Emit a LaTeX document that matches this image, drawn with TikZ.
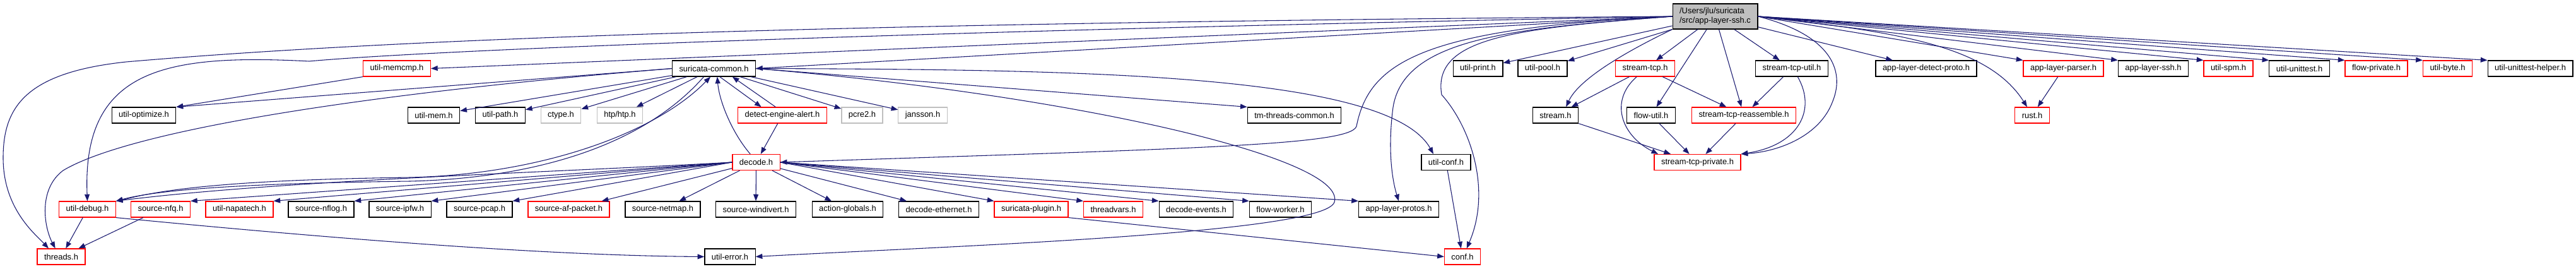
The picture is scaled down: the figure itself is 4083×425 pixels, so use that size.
\documentclass[tikz,border=0pt]{standalone}
\usepackage{fontspec}
\setmainfont{Liberation Sans}
\usepackage{tikz}
\usetikzlibrary{arrows.meta}

\begin{document}
\begin{tikzpicture}[
    x=0.75pt, y=-0.75pt,
    font=\fontsize{9.7}{11.25}\selectfont,
    header/.style={
        rectangle,
        draw=#1,
        fill=white,
        line width=0.9pt,
        inner xsep=8.25pt,
        inner ysep=0pt,
        minimum height=18.75pt
    },
    header/.default=black,
    mainfile/.style={
        rectangle,
        draw=black,
        fill=mainfill,
        line width=0.9pt,
        align=left,
        inner xsep=8.25pt,
        inner ysep=0pt,
        minimum height=30pt
    },
    arrow/.style={
        -{Triangle[length=8pt,width=6pt]},
        line width=0.8pt,
        draw=edgeblue
    }
]

\definecolor{edgeblue}{RGB}{25,25,112}
\definecolor{extgray}{RGB}{191,191,191}
\definecolor{mainfill}{RGB}{191,191,191}

\useasboundingbox (0,0) rectangle (4083,425);

% Source file
\node[mainfile] (sshc) at (2718.5,26) {/Users/jlu/suricata\\/src/app-layer-ssh.c};

% First row of headers
\node[header=red] (memcmp) at (629,108.5) {util-memcmp.h};
\node[header] (common) at (1131.5,108.5) {suricata-common.h};
\node[header] (print) at (2342.5,108.5) {util-print.h};
\node[header] (pool) at (2445,108.5) {util-pool.h};
\node[header=red] (streamtcp) at (2607.5,108.5) {stream-tcp.h};
\node[header] (tcputil) at (2840,108.5) {stream-tcp-util.h};
\node[header] (detectproto) at (3053,108.5) {app-layer-detect-proto.h};
\node[header=red] (parser) at (3270.5,108.5) {app-layer-parser.h};
\node[header] (sshh) at (3413,108.5) {app-layer-ssh.h};
\node[header=red] (spm) at (3532,108.5) {util-spm.h};
\node[header] (unittest) at (3644.5,108.5) {util-unittest.h};
\node[header=red] (flowpriv) at (3766.5,108.5) {flow-private.h};
\node[header=red] (bytes) at (3879.5,108.5) {util-byte.h};
\node[header] (helper) at (4010.5,108.5) {util-unittest-helper.h};

% Second row
\node[header] (optimize) at (228,182.5) {util-optimize.h};
\node[header] (mem) at (687.5,182.5) {util-mem.h};
\node[header] (path) at (793,182.5) {util-path.h};
\node[header=extgray] (ctype) at (889,182.5) {ctype.h};
\node[header=extgray] (htp) at (982.5,182.5) {htp/htp.h};
\node[header=red] (alert) at (1240,182.5) {detect-engine-alert.h};
\node[header=extgray] (pcre) at (1366.5,182.5) {pcre2.h};
\node[header=extgray] (jansson) at (1462.5,182.5) {jansson.h};
\node[header] (tmthreads) at (2051.5,182.5) {tm-threads-common.h};
\node[header] (stream) at (2465.5,182.5) {stream.h};
\node[header] (flowutil) at (2617,182.5) {flow-util.h};
\node[header=red] (reassemble) at (2764,182.5) {stream-tcp-reassemble.h};
\node[header=red] (rust) at (3221,182.5) {rust.h};

% Third row
\node[header=red] (decode) at (1198.5,257) {decode.h};
\node[header] (utilconf) at (2292,257) {util-conf.h};
\node[header=red] (tcppriv) at (2690.5,257) {stream-tcp-private.h};

% Fourth row
\node[header=red] (debug) at (138.5,331.5) {util-debug.h};
\node[header=red] (nfq) at (254.5,331.5) {source-nfq.h};
\node[header=red] (napatech) at (379.5,331.5) {util-napatech.h};
\node[header] (nflog) at (509,331.5) {source-nflog.h};
\node[header] (ipfw) at (634,331.5) {source-ipfw.h};
\node[header] (pcap) at (760,331.5) {source-pcap.h};
\node[header=red] (afpacket) at (901.5,331.5) {source-af-packet.h};
\node[header] (netmap) at (1050.5,331.5) {source-netmap.h};
\node[header] (windivert) at (1198,331.5) {source-windivert.h};
\node[header] (actionglobals) at (1343.5,331.5) {action-globals.h};
\node[header] (ethernet) at (1488,331.5) {decode-ethernet.h};
\node[header=red] (plugin) at (1634.5,331.5) {suricata-plugin.h};
\node[header=red] (threadvars) at (1764.5,331.5) {threadvars.h};
\node[header] (events) at (1896,331.5) {decode-events.h};
\node[header] (flowworker) at (2029.5,331.5) {flow-worker.h};
\node[header] (protos) at (2217,331.5) {app-layer-protos.h};

% Fifth row
\node[header=red] (threads) at (97,406.5) {threads.h};
\node[header] (utilerror) at (1157,406.5) {util-error.h};
\node[header=red] (conf) at (2318,406.5) {conf.h};

% Includes of the source file
\draw[arrow] (sshc.west) .. controls (1500,35) and (700,55) .. (200,98) .. controls (40,115) and (5,170) .. (5,250) .. controls (5,330) and (55,370) .. ([xshift=-15pt]threads.north);
\draw[arrow] (sshc.west) .. controls (1500,48) and (700,78) .. (490,97) .. controls (260,85) and (130,110) .. (debug.north);
\draw[arrow] (sshc.west) -- (memcmp.east);
\draw[arrow] (sshc.west) -- (common.east);
\draw[arrow] (sshc.west) .. controls (2250,45) and (2170,100) .. (2150,200) .. controls (2140,230) and (1900,235) .. (decode.east);
\draw[arrow] (sshc.west) .. controls (2400,45) and (2270,60) .. (2285,150) .. controls (2330,200) and (2365,300) .. ([xshift=5pt]conf.north);
\draw[arrow] (sshc.west) .. controls (2400,45) and (2225,60) .. (2208,170) .. controls (2200,230) and (2205,280) .. (protos.north);
\draw[arrow] (sshc) -- (print);
\draw[arrow] (sshc) -- (pool);
\draw[arrow] (sshc) -- (streamtcp);
\draw[arrow] (sshc.south west) .. controls (2560,90) and (2500,130) .. ([xshift=-15pt]stream.north east);
\draw[arrow] (sshc) -- (flowutil);
\draw[arrow] (sshc) -- (reassemble);
\draw[arrow] (sshc) -- (tcputil);
\draw[arrow] (sshc.east) .. controls (2900,55) and (2925,110) .. (2905,160) .. controls (2885,215) and (2820,240) .. (tcppriv.north east);
\draw[arrow] (sshc) -- (detectproto);
\draw[arrow] (sshc.east) -- (parser.north west);
\draw[arrow] (sshc.east) .. controls (3000,50) and (3150,70) .. ([xshift=-6pt]rust.north);
\draw[arrow] (sshc.east) -- (sshh.north west);
\draw[arrow] (sshc.east) -- (spm.north west);
\draw[arrow] (sshc.east) -- (unittest.north west);
\draw[arrow] (sshc.east) -- (flowpriv.north west);
\draw[arrow] (sshc.east) -- (bytes.north west);
\draw[arrow] (sshc.east) -- (helper.north west);

% suricata-common.h
\draw[arrow] (common.west) -- (optimize.north east);
\draw[arrow] (memcmp.south west) -- (optimize.north east);
\draw[arrow] (common.west) .. controls (550,150) and (200,210) .. (100,270) .. controls (60,300) and (70,360) .. ([xshift=-7pt]threads.north);
\draw[arrow] (common) -- (mem);
\draw[arrow] (common) -- (path);
\draw[arrow] (common) -- (ctype);
\draw[arrow] (common) -- (htp);
\draw[arrow] ([xshift=7pt]common.south) -- ([xshift=-25pt]alert.north);
\draw[arrow] ([xshift=-8pt]alert.north) -- ([xshift=22pt]common.south);
\draw[arrow] (alert) -- (decode);
\draw[arrow] ([xshift=-7pt]decode.north) .. controls (1160,210) and (1140,160) .. ([xshift=4pt]common.south);
\draw[arrow] (common) -- (pcre);
\draw[arrow] (common) -- (jansson);
\draw[arrow] (common.east) -- (tmthreads.north west);
\draw[arrow] (common.east) .. controls (1700,110) and (2200,115) .. ([xshift=-15pt]utilconf.north);
\draw[arrow] (common.east) .. controls (1700,150) and (2135,250) .. (2115,320) .. controls (2100,370) and (1500,390) .. (utilerror.east);
\draw[arrow] ([xshift=-12pt]common.south) .. controls (1020,230) and (850,282) .. (650,287) .. controls (420,290) and (260,298) .. (debug.north east);
\draw[arrow] ([xshift=3pt]debug.north east) .. controls (270,294) and (430,284) .. (650,281) .. controls (860,276) and (1040,210) .. ([xshift=-4pt]common.south);

% decode.h
\draw[arrow] (decode.west) .. controls (900,272) and (450,285) .. (debug.north east);
\draw[arrow] (decode.west) -- (nfq.north east);
\draw[arrow] (decode.west) -- (napatech.north east);
\draw[arrow] (decode.west) -- (nflog.north east);
\draw[arrow] (decode.west) -- (ipfw.north east);
\draw[arrow] (decode.west) -- (pcap.north east);
\draw[arrow] (decode) -- (afpacket);
\draw[arrow] (decode) -- (netmap);
\draw[arrow] (decode) -- (windivert);
\draw[arrow] (decode) -- (actionglobals);
\draw[arrow] (decode) -- (ethernet);
\draw[arrow] (decode.east) -- (plugin.north west);
\draw[arrow] (decode.east) -- (threadvars.north west);
\draw[arrow] (decode.east) -- (events.north west);
\draw[arrow] (decode.east) -- (flowworker.north west);
\draw[arrow] (decode.east) -- (protos.north west);

% Lower includes
\draw[arrow] (debug) -- (threads);
\draw[arrow] (nfq) -- (threads);
\draw[arrow] (debug.south east) .. controls (600,385) and (900,405) .. (utilerror.west);
\draw[arrow] (plugin.south east) -- (conf.west);
\draw[arrow] (utilconf) -- (conf);

% Stream headers
\draw[arrow] (streamtcp) -- (stream);
\draw[arrow] (streamtcp) -- (reassemble);
\draw[arrow] ([xshift=-10pt]streamtcp.south) .. controls (2550,160) and (2570,215) .. ([xshift=5pt]tcppriv.north west);
\draw[arrow] (stream.south east) -- ([xshift=20pt]tcppriv.north west);
\draw[arrow] (flowutil) -- (tcppriv);
\draw[arrow] (reassemble) -- (tcppriv);
\draw[arrow] (tcputil) -- (reassemble);
\draw[arrow] ([xshift=7pt]tcputil.south) .. controls (2880,175) and (2850,230) .. (tcppriv.north east);
\draw[arrow] (parser) -- (rust);

\end{tikzpicture}
\end{document}
